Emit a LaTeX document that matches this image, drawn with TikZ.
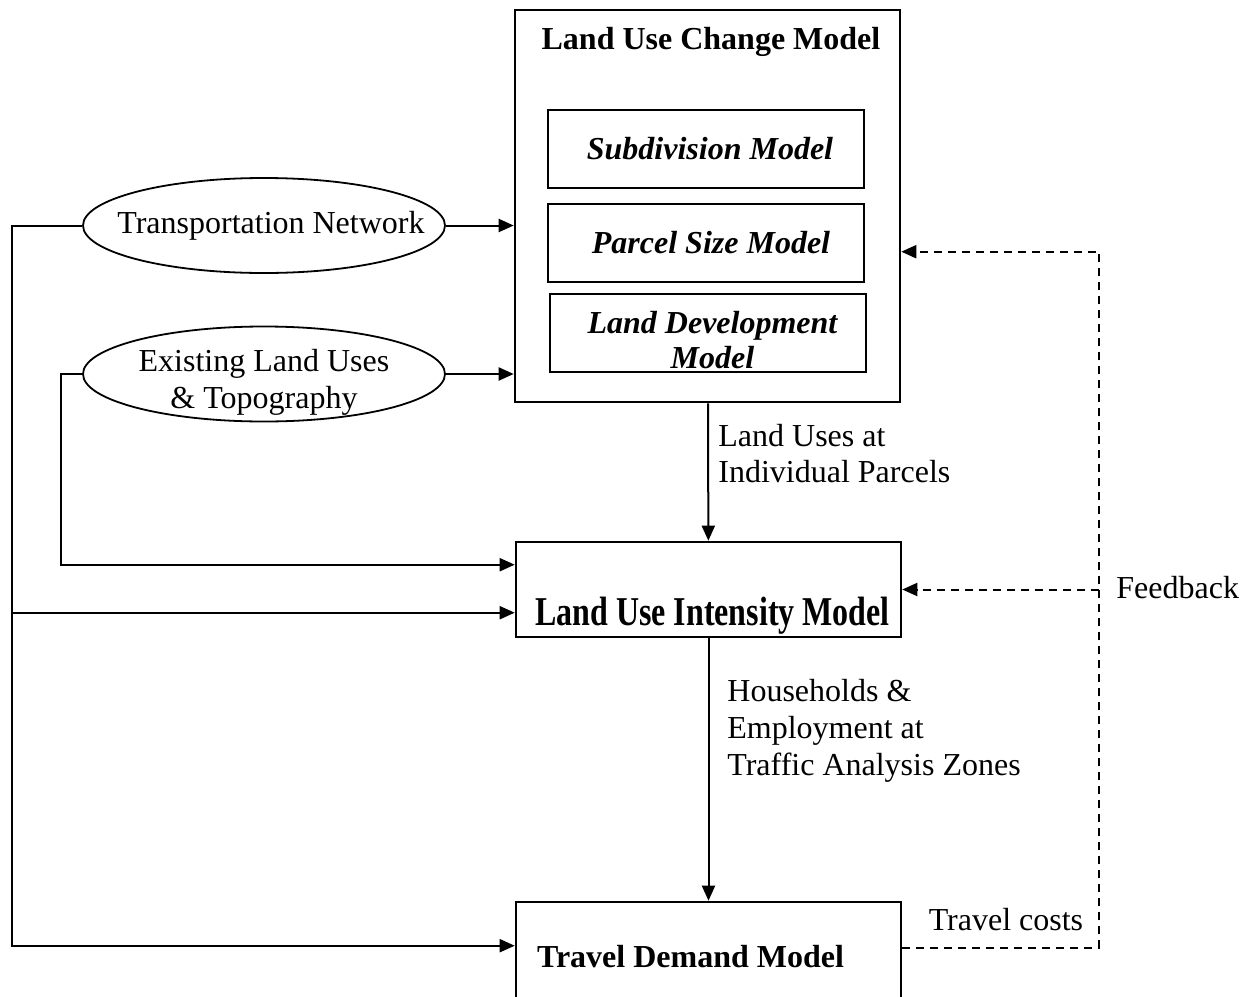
\documentclass[tikz,border=0pt]{standalone}
\usepackage{fontspec}
\usepackage{graphicx}
\setmainfont{Liberation Serif}
\usetikzlibrary{shapes.geometric, arrows.meta, positioning, calc}

\begin{document}
\begin{tikzpicture}[
    x=0.5pt, y=-0.5pt,
    every node/.style={font=\fontsize{16}{18}\selectfont},
    model/.style={rectangle, draw=black, line width=1.3pt, minimum width=192.5pt, minimum height=47.5pt, font=\fontsize{16}{18}\selectfont\bfseries},
    submodel/.style={rectangle, draw=black, line width=1.3pt, minimum width=158pt, minimum height=39pt, inner sep=0pt, font=\fontsize{16}{17.5}\selectfont\bfseries\itshape},
    input/.style={ellipse, draw=black, line width=0.9pt, minimum width=181pt, minimum height=47.5pt, inner sep=0pt},
    inputtext/.style={inner sep=0pt, align=center, font=\fontsize{16}{18.5}\selectfont},
    note/.style={align=left, inner sep=0pt, font=\fontsize{16}{18}\selectfont},
    arrow/.style={line width=1pt, -{Triangle[length=7.5pt, width=6.5pt]}},
    feedback/.style={line width=1pt, dash pattern=on 4pt off 3pt, -{Triangle[length=7.5pt, width=6.5pt]}}
]
    \useasboundingbox (0,0) rectangle (1255,997);
    \clip (0,0) rectangle (1255,997);

    % Land use change model and its sub-models
    \node[model, minimum height=196pt] (lucm) at (707.5,206) {};
    \node[anchor=north, inner sep=0pt, font=\fontsize{16}{18}\selectfont\bfseries] (lucmtitle) at (711,27) {Land Use Change Model};
    \node[submodel] (subdiv) at (706,149) {\hspace{4pt}Subdivision Model};
    \node[submodel] (parcel) at (706,243) {\hspace{5pt}Parcel Size Model};
    \node[submodel] (devbox) at (708,333) {};
    \node[inner sep=0pt, align=center, font=\fontsize{16}{17.5}\selectfont\bfseries\itshape] (devtext) at (712.5,340) {Land Development\\Model};

    % Inputs
    \node[input] (transnet) at (264,225.5) {};
    \node[inputtext] (transtext) at (271,226) {Transportation Network};
    \node[input] (landuse) at (264,374) {};
    \node[inputtext] (landtext) at (264,382) {Existing Land Uses\\\& Topography};

    % Lower models
    \node[model, text height=37pt, text depth=1.5pt, inner ysep=0pt] (luim) at (708.5,589.5) {\hspace{4pt}\scalebox{1}[1.28]{Land Use Intensity Model}};
    \node[model, minimum height=55pt] (tdm) at (708.5,957) {\hspace{-18pt}Travel Demand Model};

    % Notes
    \node[note, anchor=west] (parcelnote) at (718,454) {Land Uses at\\Individual Parcels};
    \node[note, anchor=west, font=\fontsize{16}{18.5}\selectfont] (zonenote) at (727,731) {Households \&\\Employment at\\Traffic Analysis Zones};
    \node[anchor=west, inner sep=0pt] (fbnote) at (1116,588) {Feedback};
    \node[inner sep=0pt] (costnote) at (1006,920) {Travel costs};

    % Helper coordinates
    \coordinate (trunk) at (12,0);
    \coordinate (branch) at (61,0);
    \coordinate (rail) at (1099,0);
    \coordinate (luimhigh) at ($(luim.north west)+(0,24)$);
    \coordinate (luimlow) at ($(luim.north west)+(0,72)$);
    \coordinate (tdmin) at ($(tdm.north west)+(0,45)$);
    \coordinate (tdmout) at ($(tdm.north east)+(0,47)$);
    \coordinate (lucmin) at ($(lucm.north east)+(0,243)$);

    % Connections
    \draw[arrow] (transnet.east) -- (transnet.east -| lucm.west);
    \draw[arrow] (landuse.east) -- (landuse.east -| lucm.west);
    \draw[arrow] (lucm) -- (luim);
    \draw[arrow] (luim) -- (tdm);
    \draw[arrow] (transnet.west) -| (trunk |- tdmin) -- (tdmin);
    \draw[arrow] (trunk |- luimlow) -- (luimlow);
    \draw[arrow] (landuse.west) -| (branch |- luimhigh) -- (luimhigh);
    \draw[feedback] (tdmout) -- (rail |- tdmout) |- (lucmin);
    \draw[feedback] (rail |- luim.east) -- (luim.east);

\end{tikzpicture}
\end{document}
